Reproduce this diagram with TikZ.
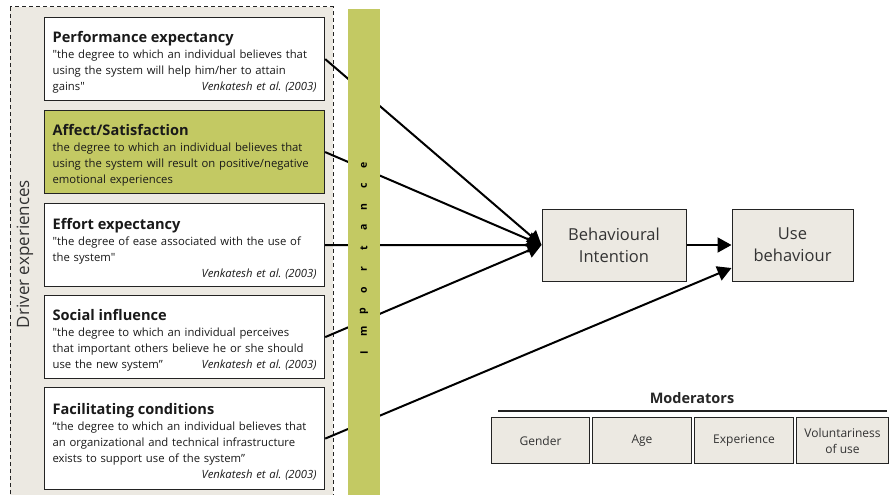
\documentclass[tikz,border=0pt]{standalone}
\usepackage{fontspec}
\setmainfont{Open Sans}
\usetikzlibrary{arrows.meta}

\definecolor{driverbg}{RGB}{236,233,226}
\definecolor{olivebar}{RGB}{195,201,99}
\definecolor{boxline}{RGB}{35,35,35}

\newcommand{\drvtitle}[1]{\rule{0pt}{18pt}{\fontsize{14.6}{16}\selectfont\bfseries #1}}
\newcommand{\venk}{\textit{Venkatesh et al.\ (2003)}}
\newcommand{\sq}{\textquotedbl}

\tikzset{
  driver/.style={draw=boxline, line width=1.2pt, fill=white, anchor=north west,
    minimum width=280pt, minimum height=#1, text width=264pt, inner xsep=8pt,
    inner ysep=3pt, align=left, text=black!90, font=\fontsize{11.3}{16}\selectfont},
  target/.style={draw=boxline, line width=1pt, fill=driverbg, align=center,
    text=black!80, font=\fontsize{16.5}{22}\selectfont},
  moder/.style={draw=boxline, line width=1pt, fill=driverbg, anchor=north west,
    minimum height=46pt, align=center, inner sep=2pt, text=black!80,
    font=\fontsize{12}{16}\selectfont},
  link/.style={line width=2pt, -{Triangle[length=14pt,width=15pt]}}
}

\begin{document}
\begin{tikzpicture}[x=1pt,y=-1pt]
  \useasboundingbox (0,0) rectangle (889,495);

  % driver experiences panel
  \draw[boxline, line width=1pt, dash pattern=on 4pt off 3pt, fill=driverbg] (10,7) rectangle (333,497);
  \node[rotate=90, text=black!80, font=\fontsize{17}{20}\selectfont] (drv) at (25,254) {Driver experiences};

  \node[driver=83pt] (perf) at (44,17) {\drvtitle{Performance expectancy}\\
    \sq the degree to which an individual believes that\\
    using the system will help him/her to attain\\
    gains\sq\hfill\venk};
  \node[driver=83pt, fill=olivebar] (affect) at (44,110) {\drvtitle{Affect/Satisfaction}\\
    the degree to which an individual believes that\\
    using the system will result on positive/negative\\
    emotional experiences};
  \node[driver=83pt] (effort) at (44,203) {\drvtitle{Effort expectancy}\\
    \sq the degree of ease associated with the use of\\
    the system\sq\\
    \mbox{}\hfill\venk};
  \node[driver=83pt] (social) at (44,295) {\drvtitle{Social influence}\\
    \sq the degree to which an individual perceives\\
    that important others believe he or she should\\
    use the new system”\hfill\venk};
  \node[driver=102pt] (facil) at (44,387) {\drvtitle{Facilitating conditions}\\
    “the degree to which an individual believes that\\
    an organizational and technical infrastructure\\
    exists to support use of the system”\\
    \mbox{}\hfill\venk};

  % outcome boxes
  \node[target, minimum width=144pt, minimum height=72pt] (bi) at (614,245) {Behavioural\\Intention};
  \node[target, minimum width=121pt, minimum height=72pt] (ub) at (792.5,245) {Use\\behaviour};

  \draw[link] (perf.east) -- (bi.west);
  \draw[link] (affect.east) -- (bi.west);
  \draw[link] (effort.east) -- (bi.west);
  \draw[link] (social.east) -- (bi.west);
  \draw[link] (bi) -- (ub);
  \draw[link] (facil.east) -- ([yshift=-23pt]ub.west);

  % importance bar over the links
  \fill[olivebar] (348,9) rectangle (380,495);
  \foreach \ch [count=\i] in {I,m,p,o,r,t,a,n,c,e}
    \node[rotate=90, inner sep=0pt, font=\fontsize{10.5}{10}\selectfont\bfseries] (imp-\i) at (364,{352.5-(\i-1)*20.8}) {\ch};

  % moderators
  \node[font=\fontsize{14.5}{16}\selectfont\bfseries, text=black!85] (mod) at (692,398) {Moderators};
  \draw[boxline, line width=1.2pt] (498,411) -- (887,411);
  \node[moder, minimum width=98pt] (gender) at (491,417) {Gender};
  \node[moder, minimum width=99pt] (age) at (592,417) {Age};
  \node[moder, minimum width=99pt] (exper) at (694,417) {Experience};
  \node[moder, minimum width=92pt] (volun) at (796,417) {Voluntariness\\of use};
\end{tikzpicture}
\end{document}
